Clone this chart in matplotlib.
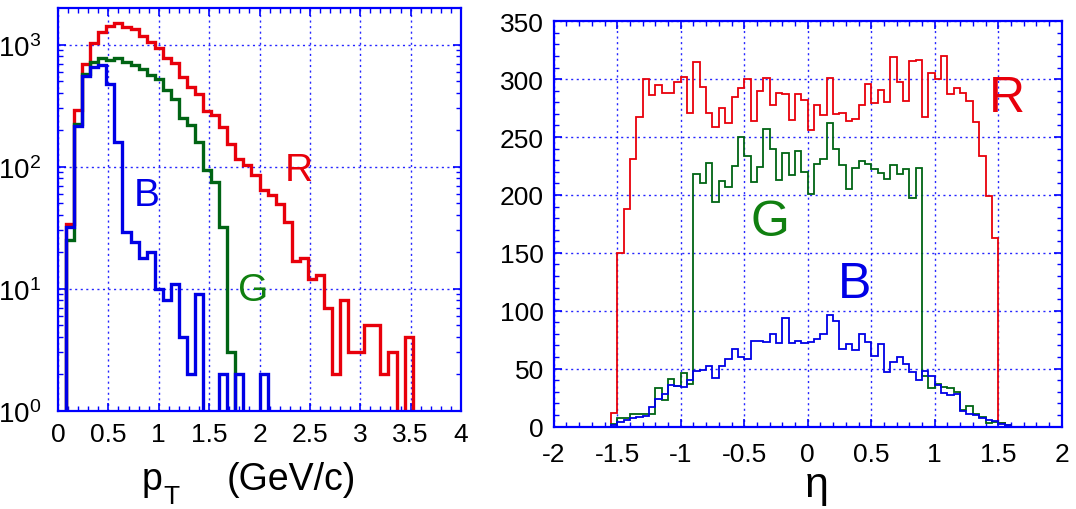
import matplotlib.pyplot as plt
import numpy as np
from matplotlib.ticker import MultipleLocator, FixedLocator, FixedFormatter, FuncFormatter, LogLocator, NullFormatter

plt.rcParams['font.family'] = ['Liberation Sans', 'DejaVu Sans']
plt.rcParams['mathtext.fontset'] = 'custom'
plt.rcParams['mathtext.rm'] = 'Liberation Sans'
plt.rcParams['mathtext.it'] = 'Liberation Sans'

# ---- pT spectra (bin width 0.08 GeV/c, 0..4) ----
pt_edges = np.linspace(0, 4, 51)
pt_red = [0, 34, 291, 690, 1025, 1270, 1430, 1510, 1405, 1345,
          1185, 1050, 940, 773, 703, 543, 450, 394, 286, 265,
          213, 153, 115, 103, 86, 64, 59, 49, 35, 17,
          18, 12, 13, 7, 2, 8, 3, 3, 5, 5,
          2, 3, 0, 4, 0, 0, 0, 0, 0, 0]
pt_green = [0, 25, 224, 575, 717, 773, 754, 782, 716, 685,
            632, 563, 523, 428, 359, 249, 220, 160, 94, 75,
            32, 3, 0, 0, 0, 0, 0, 0, 0, 0,
            0, 0, 0, 0, 0, 0, 0, 0, 0, 0,
            0, 0, 0, 0, 0, 0, 0, 0, 0, 0]
pt_blue = [0, 32, 217, 557, 652, 681, 476, 160, 29, 24,
           18, 20, 10, 8, 11, 4, 2, 9, 0, 0,
           2, 0, 2, 0, 0, 2, 0, 0, 0, 0,
           0, 0, 0, 0, 0, 0, 0, 0, 0, 0,
           0, 0, 0, 0, 0, 0, 0, 0, 0, 0]

# ---- eta distributions (bin width 0.05, -1.6..1.6) ----
eta_edges = np.linspace(-1.6, 1.6, 65)
eta_red = [0, 12, 150, 188, 231, 267, 300, 286, 295, 288,
           288, 298, 302, 271, 315, 293, 271, 259, 275, 262,
           285, 292, 300, 264, 290, 301, 278, 288, 287, 265,
           287, 282, 256, 278, 269, 301, 270, 271, 264, 266,
           278, 296, 279, 291, 280, 319, 298, 281, 316, 317,
           267, 305, 300, 320, 287, 292, 288, 281, 263, 234,
           199, 163, 3, 0]
eta_green = [0, 2, 7, 7, 11, 11, 11, 11, 33, 23,
             41, 35, 46, 37, 218, 210, 228, 194, 212, 207,
             225, 250, 234, 211, 224, 257, 240, 213, 236, 217,
             238, 220, 201, 227, 231, 262, 240, 226, 205, 223,
             229, 227, 222, 219, 214, 226, 218, 222, 197, 223,
             44, 33, 37, 34, 33, 30, 14, 18, 11, 8,
             3, 4, 3, 1]
eta_blue = [0, 1, 4, 6, 7, 8, 9, 17, 24, 28,
            36, 35, 34, 40, 48, 49, 52, 42, 52, 58,
            67, 60, 58, 74, 74, 73, 80, 72, 94, 72,
            74, 72, 73, 76, 80, 96, 91, 67, 71, 66,
            80, 73, 61, 71, 47, 56, 60, 54, 47, 40,
            48, 44, 36, 29, 27, 28, 13, 11, 10, 7,
            6, 5, 2, 1]

RED = '#e8000b'
GREEN = '#006414'
BLUE = '#0000e6'
AXC = '#0000ff'
W, H = 1076, 510

plain = FuncFormatter(lambda v, p: '%g' % v)


def style_axes(ax):
    for s in ax.spines.values():
        s.set_color(AXC)
        s.set_linewidth(1.6)
    ax.tick_params(which='both', direction='in', top=True, right=True, color=AXC,
                   labelsize=19, labelcolor='black')
    ax.tick_params(which='major', length=6, width=1.2)
    ax.tick_params(which='minor', length=3.5, width=1.0)
    ax.grid(True, which='major', color=AXC, linestyle=(0, (1.5, 2.5)), linewidth=1.0, alpha=0.85)
    ax.set_axisbelow(True)


fig = plt.figure(figsize=(W / 100, H / 100), dpi=100)

# left panel
ax1 = fig.add_axes([58 / W, 1 - 411.7 / H, 403 / W, 402.7 / H])
floor = 0.1
for vals, c in [(pt_red, RED), (pt_green, GREEN), (pt_blue, BLUE)]:
    v = np.maximum(np.array(vals, dtype=float), floor)
    ax1.stairs(v, pt_edges, color=c, linewidth=2.4, baseline=floor)
ax1.set_yscale('log')
ax1.set_xlim(0, 4)
ax1.set_ylim(1, 10 ** 3.3)
ax1.xaxis.set_major_locator(MultipleLocator(0.5))
ax1.xaxis.set_minor_locator(MultipleLocator(0.1))
ax1.xaxis.set_major_formatter(plain)
ax1.yaxis.set_major_locator(FixedLocator([1, 10, 100, 1000]))
ax1.yaxis.set_major_formatter(FixedFormatter([r'$\mathregular{10^{0}}$', r'$\mathregular{10^{1}}$',
                                              r'$\mathregular{10^{2}}$', r'$\mathregular{10^{3}}$']))
ax1.yaxis.set_minor_locator(LogLocator(base=10, subs=np.arange(2, 10)))
ax1.yaxis.set_minor_formatter(NullFormatter())
style_axes(ax1)
ax1.tick_params(axis='x', pad=8)
ax1.tick_params(axis='y', which='major', pad=12, labelsize=20)

ax1.text(299, H - 171, 'R', transform=None, color=RED, fontsize=28, ha='center', va='center')
ax1.text(147, H - 196, 'B', transform=None, color=BLUE, fontsize=28, ha='center', va='center')
ax1.text(253, H - 291, 'G', transform=None, color='#108010', fontsize=28, ha='center', va='center')

# right panel
ax2 = fig.add_axes([553.7 / W, 1 - 427.5 / H, 508 / W, 405.2 / H])
for vals, c in [(eta_red, RED), (eta_green, GREEN), (eta_blue, BLUE)]:
    ax2.stairs(vals, eta_edges, color=c, linewidth=1.3)
ax2.set_xlim(-2, 2)
ax2.set_ylim(0, 350)
ax2.xaxis.set_major_locator(MultipleLocator(0.5))
ax2.xaxis.set_minor_locator(MultipleLocator(0.1))
ax2.xaxis.set_major_formatter(plain)
ax2.yaxis.set_major_locator(MultipleLocator(50))
ax2.yaxis.set_minor_locator(MultipleLocator(10))
style_axes(ax2)
ax2.tick_params(axis='x', pad=11)
ax2.tick_params(axis='y', pad=7)

ax2.text(1007, H - 99, 'R', transform=None, color=RED, fontsize=36, ha='center', va='center')
ax2.text(770, H - 223, 'G', transform=None, color='#108010', fontsize=36, ha='center', va='center')
ax2.text(855, H - 285, 'B', transform=None, color=BLUE, fontsize=36, ha='center', va='center')

# axis titles
fig.text(142 / W, 1 - 490 / H, 'p', fontsize=27, ha='left', va='baseline')
fig.text(163 / W, 1 - 504 / H, 'T', fontsize=19, ha='left', va='baseline')
fig.text(227 / W, 1 - 490 / H, '(GeV/c)', fontsize=27, ha='left', va='baseline')
fig.text(817 / W, 1 - 497 / H, '\u03b7', fontsize=31, ha='center', va='baseline')

fig.savefig('out.png', dpi=100)
